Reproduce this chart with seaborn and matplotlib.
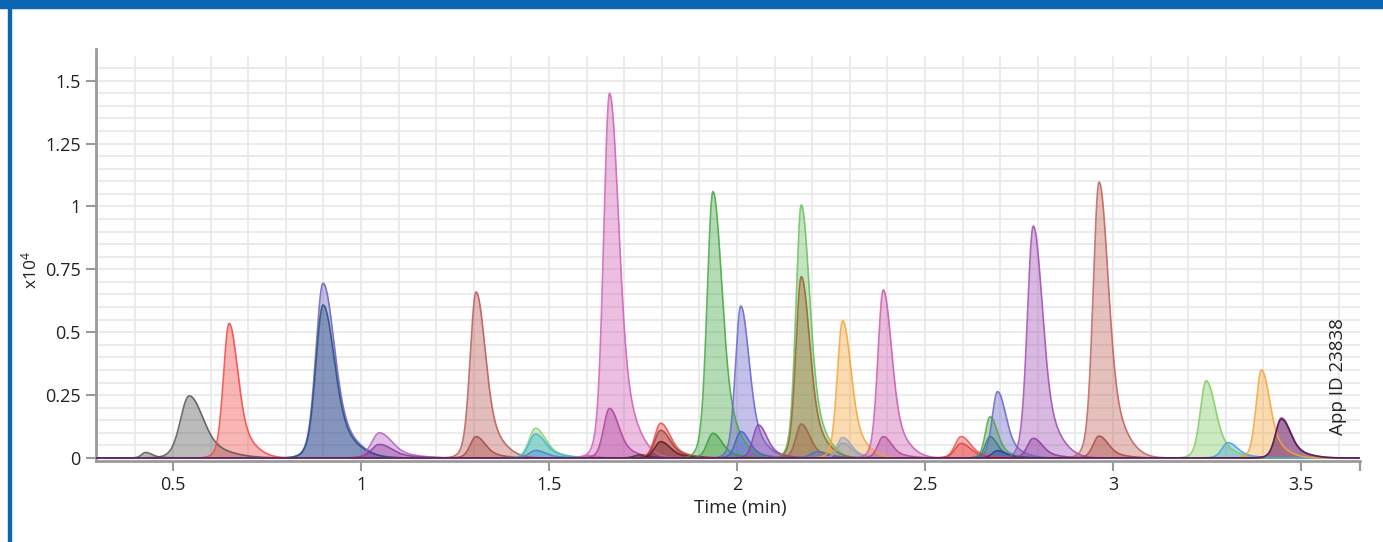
import numpy as np
import pandas as pd
import matplotlib
matplotlib.use("Agg")
import matplotlib.pyplot as plt
from matplotlib.patches import Rectangle
import seaborn as sns

# ---- data (retention time in min, height in x10^4 counts, FWHM in min) ----
peak_times = [0.427, 0.543, 0.649, 0.899, 0.899, 1.049, 1.049, 1.306, 1.306,
              1.464, 1.464, 1.464, 1.600, 1.661, 1.661, 1.740, 1.797, 1.797, 1.797,
              1.936, 1.936, 2.010, 2.010, 2.057, 2.171, 2.171, 2.171, 2.214,
              2.281, 2.281, 2.281, 2.389, 2.389, 2.596, 2.596, 2.673, 2.673,
              2.693, 2.693, 2.788, 2.788, 2.963, 2.963, 3.248, 3.306, 3.395,
              3.448, 3.448]
peak_heights = [0.022, 0.247, 0.535, 0.695, 0.608, 0.100, 0.054, 0.660, 0.085,
                0.118, 0.095, 0.030, 0.010, 1.450, 0.197, 0.012, 0.138, 0.110, 0.065,
                1.059, 0.098, 0.604, 0.105, 0.131, 1.006, 0.721, 0.135, 0.025,
                0.546, 0.081, 0.060, 0.668, 0.085, 0.085, 0.058, 0.164, 0.085,
                0.264, 0.029, 0.922, 0.078, 1.097, 0.087, 0.307, 0.061, 0.350,
                0.160, 0.155]
peak_fwhm = [0.030, 0.066, 0.042, 0.054, 0.054, 0.060, 0.060, 0.044, 0.044,
             0.048, 0.048, 0.048, 0.040, 0.044, 0.044, 0.040, 0.045, 0.045, 0.045,
             0.043, 0.043, 0.040, 0.040, 0.040, 0.040, 0.040, 0.040, 0.050,
             0.040, 0.040, 0.040, 0.040, 0.040, 0.045, 0.045, 0.035, 0.035,
             0.040, 0.040, 0.044, 0.044, 0.044, 0.044, 0.044, 0.045, 0.040,
             0.044, 0.044]
trace_colors = ["#555555", "#555555", "#f04a48", "#6e62c4", "#24527c", "#b561c4", "#8a3a9e",
                "#bb5a55", "#a84848", "#8fd070", "#38b6d8", "#4a80d8", "#d060b8", "#d060b8",
                "#b0409a", "#3a3a3a", "#ef4a44", "#a04040", "#5a1a1a", "#45a845", "#3a9a3a",
                "#6a66cc", "#4a5ad0", "#9040a8", "#6cc060", "#9a6530", "#a06040", "#4a70c8",
                "#f5a53a", "#8fa8c0", "#a0a0b0", "#cc5ab0", "#b04898", "#f05050", "#e04040",
                "#48a848", "#2a8070", "#6a66c8", "#2a3a9a", "#a050b4", "#8a3a9e", "#c0625c",
                "#a84848", "#80cc60", "#40a0e0", "#f5a53a", "#d060a0", "#401050"]

x_ticks = [0.5, 1, 1.5, 2, 2.5, 3, 3.5]
x_tick_labels = ["0.5", "1", "1.5", "2", "2.5", "3", "3.5"]
y_ticks = [0, 0.25, 0.5, 0.75, 1, 1.25, 1.5]
y_tick_labels = ["0", "0.25", "0.5", "0.75", "1", "1.25", "1.5"]

X_MIN, X_MAX = 0.295, 3.657
Y_MIN, Y_MAX = -0.012, 1.626

# ---- build traces (one smoothly tailing peak shape per trace) ----
t = np.linspace(X_MIN, X_MAX, 5000)


def peak_shape(tt, tr, h, fwhm, asym=1.5):
    sl = fwhm / (1.1774 * (1 + asym))
    sr = asym * sl
    d = tt - tr
    left = 0.88 * np.exp(-0.5 * (d / sl) ** 2) + 0.12 * np.exp(-0.5 * (d / (1.8 * sl)) ** 2)
    right = 0.74 * np.exp(-0.5 * (d / sr) ** 2) + 0.26 * np.exp(-0.5 * (d / (2.3 * sr)) ** 2)
    return h * np.where(d < 0, left, right)


rows = []
for i, (tr, h, w) in enumerate(zip(peak_times, peak_heights, peak_fwhm)):
    y = peak_shape(t, tr, h, w)
    rows.append(pd.DataFrame({"time": t, "signal": y, "trace": f"T{i:02d}"}))
df = pd.concat(rows, ignore_index=True)
palette = {f"T{i:02d}": c for i, c in enumerate(trace_colors)}

# ---- figure ----
sns.set_theme(style="white")
plt.rcParams["font.family"] = ["Open Sans", "DejaVu Sans"]
plt.rcParams["mathtext.default"] = "regular"

fig = plt.figure(figsize=(13.83, 5.42), dpi=100)
ax = fig.add_axes([96 / 1383, 1 - 461 / 542, (1360 - 96) / 1383, (461 - 49) / 542])

# grid
grid_c = "#e6e6e6"
ax.vlines(np.arange(0.4, 3.65, 0.1), 0, 1.6, color=grid_c, lw=1.1, zorder=0)
ax.hlines(np.arange(0.05, 1.56, 0.05), X_MIN, X_MAX, color=grid_c, lw=1.1, zorder=0)

for name, g in df.groupby("trace", sort=True):
    ax.fill_between(g["time"], 0, g["signal"], color=palette[name], alpha=0.40, lw=0, zorder=2)

sns.lineplot(data=df, x="time", y="signal", hue="trace", palette=palette, legend=False,
             estimator=None, sort=False, lw=1.2, alpha=0.85, ax=ax, zorder=3)

ax.set_xlim(X_MIN, X_MAX)
ax.set_ylim(Y_MIN, Y_MAX)
ax.set_xticks(x_ticks)
ax.set_xticklabels(x_tick_labels)
ax.set_yticks(y_ticks)
ax.set_yticklabels(y_tick_labels)
ax.set_xlabel("")
ax.set_ylabel("")

for s in ["top", "right"]:
    ax.spines[s].set_visible(False)
for s in ["left", "bottom"]:
    ax.spines[s].set_color("#9a9a9a")
    ax.spines[s].set_linewidth(2)
ax.tick_params(axis="both", which="major", direction="out", length=7, width=1.5,
               color="#9a9a9a", labelsize=13, labelcolor="#222222", pad=4,
               bottom=True, left=True)
# end cap tick at right end of x axis
ax.plot([X_MAX, X_MAX], [Y_MIN, Y_MIN], marker=3, ms=7, mew=1.5, color="#9a9a9a",
        clip_on=False, transform=ax.transData)

fig.text(30 / 1383, 1 - 270 / 542, "x10$^{4}$", rotation=90, ha="center", va="center",
         fontsize=12.5, color="#222222")
fig.text(740 / 1383, 1 - 508 / 542, "Time (min)", ha="center", va="center",
         fontsize=13.5, color="#222222")
fig.text(1338 / 1383, 1 - 377 / 542, "App ID 23838", rotation=90, ha="center", va="center",
         fontsize=13.5, color="#222222")

# blue frame
fig.patches.append(Rectangle((0, 1 - 8 / 542), 1, 8 / 542, transform=fig.transFigure,
                             color="#0a66b2", zorder=10))
fig.patches.append(Rectangle((8 / 1383, 0), 3 / 1383, 1, transform=fig.transFigure,
                             color="#0a66b2", zorder=10))

fig.savefig("out.png", dpi=100, facecolor="white")
